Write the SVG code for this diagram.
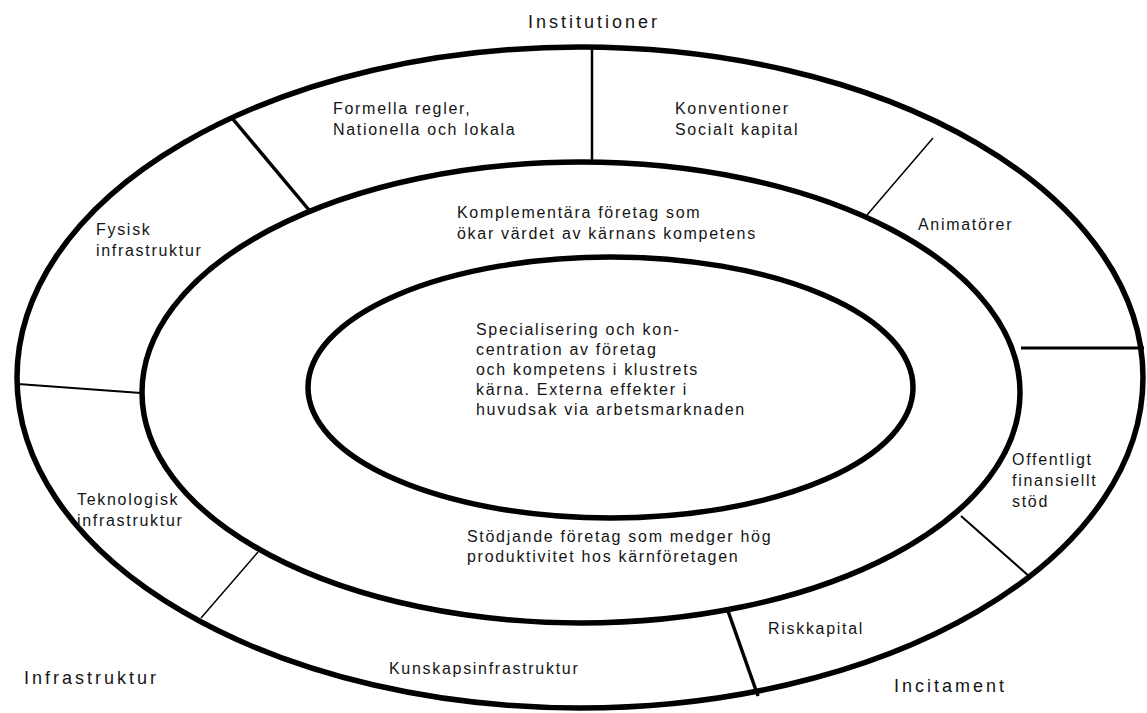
<svg xmlns="http://www.w3.org/2000/svg" width="1147" height="713" viewBox="0 0 1147 713">
  <style>
    .ring { fill: none; stroke: #000; stroke-width: 5.5; }
    .div { stroke: #000; fill: none; stroke-linecap: butt; }
    .t { font-family: "Liberation Sans", Arial, sans-serif; font-size: 16px; letter-spacing: 1.7px; fill: #151515; }
    .lbl { font-family: "Liberation Sans", Arial, sans-serif; font-size: 18px; letter-spacing: 3px; fill: #151515; }
  </style>
  <rect width="1147" height="713" fill="#fff"/>

  <!-- rings -->
  <g id="outer-ring">
    <ellipse class="ring" cx="580" cy="377.5" rx="563" ry="330.5"/>
  </g>
  <g id="middle-ring">
    <ellipse class="ring" cx="581" cy="392.5" rx="439" ry="230.5"/>
  </g>
  <g id="core">
    <ellipse class="ring" cx="610.5" cy="387.5" rx="302.5" ry="130.5" stroke-width="6.5"/>
    <text class="t">
      <tspan x="476" y="335">Specialisering och kon-</tspan>
      <tspan x="476" y="355">centration av företag</tspan>
      <tspan x="476" y="375">och kompetens i klustrets</tspan>
      <tspan x="476" y="395">kärna. Externa effekter i</tspan>
      <tspan x="476" y="415">huvudsak via arbetsmarknaden</tspan>
    </text>
  </g>

  <!-- segment dividers -->
  <g id="connectors">
    <line class="div" x1="592" y1="49" x2="592" y2="162" stroke-width="2.5"/>
    <line class="div" x1="232" y1="118" x2="309" y2="210" stroke-width="3.5"/>
    <line class="div" x1="933" y1="138" x2="867" y2="215" stroke-width="1.5"/>
    <line class="div" x1="18" y1="384" x2="141" y2="393" stroke-width="2"/>
    <line class="div" x1="1021" y1="348" x2="1144" y2="348" stroke-width="3"/>
    <line class="div" x1="258" y1="552" x2="201" y2="618" stroke-width="1.5"/>
    <line class="div" x1="961" y1="516" x2="1030" y2="577" stroke-width="2"/>
    <line class="div" x1="728" y1="611" x2="758" y2="696" stroke-width="3.5"/>
  </g>

  <!-- middle ring texts -->
  <g id="complementary">
    <text class="t"><tspan x="457" y="218">Komplementära företag som</tspan><tspan x="457" y="239">ökar värdet av kärnans kompetens</tspan></text>
  </g>
  <g id="supporting">
    <text class="t"><tspan x="467" y="542">Stödjande företag som medger hög</tspan><tspan x="467" y="562">produktivitet hos kärnföretagen</tspan></text>
  </g>

  <!-- outer ring segments -->
  <g id="formal-rules">
    <text class="t"><tspan x="333" y="114">Formella regler,</tspan><tspan x="333" y="135">Nationella och lokala</tspan></text>
  </g>
  <g id="conventions">
    <text class="t"><tspan x="675" y="114">Konventioner</tspan><tspan x="675" y="135">Socialt kapital</tspan></text>
  </g>
  <g id="animators">
    <text class="t" x="918" y="230">Animatörer</text>
  </g>
  <g id="physical-infra">
    <text class="t"><tspan x="96" y="235">Fysisk</tspan><tspan x="96" y="256">infrastruktur</tspan></text>
  </g>
  <g id="tech-infra">
    <text class="t"><tspan x="77" y="505">Teknologisk</tspan><tspan x="77" y="526">infrastruktur</tspan></text>
  </g>
  <g id="knowledge-infra">
    <text class="t" x="389" y="674">Kunskapsinfrastruktur</text>
  </g>
  <g id="risk-capital">
    <text class="t" x="768" y="634">Riskkapital</text>
  </g>
  <g id="public-support">
    <text class="t"><tspan x="1012" y="465">Offentligt</tspan><tspan x="1012" y="486">finansiellt</tspan><tspan x="1012" y="507">stöd</tspan></text>
  </g>

  <!-- group labels -->
  <g id="label-institutions">
    <text class="lbl" x="528" y="28">Institutioner</text>
  </g>
  <g id="label-infrastructure">
    <text class="lbl" x="24" y="684">Infrastruktur</text>
  </g>
  <g id="label-incentives">
    <text class="lbl" x="894" y="692">Incitament</text>
  </g>
</svg>
